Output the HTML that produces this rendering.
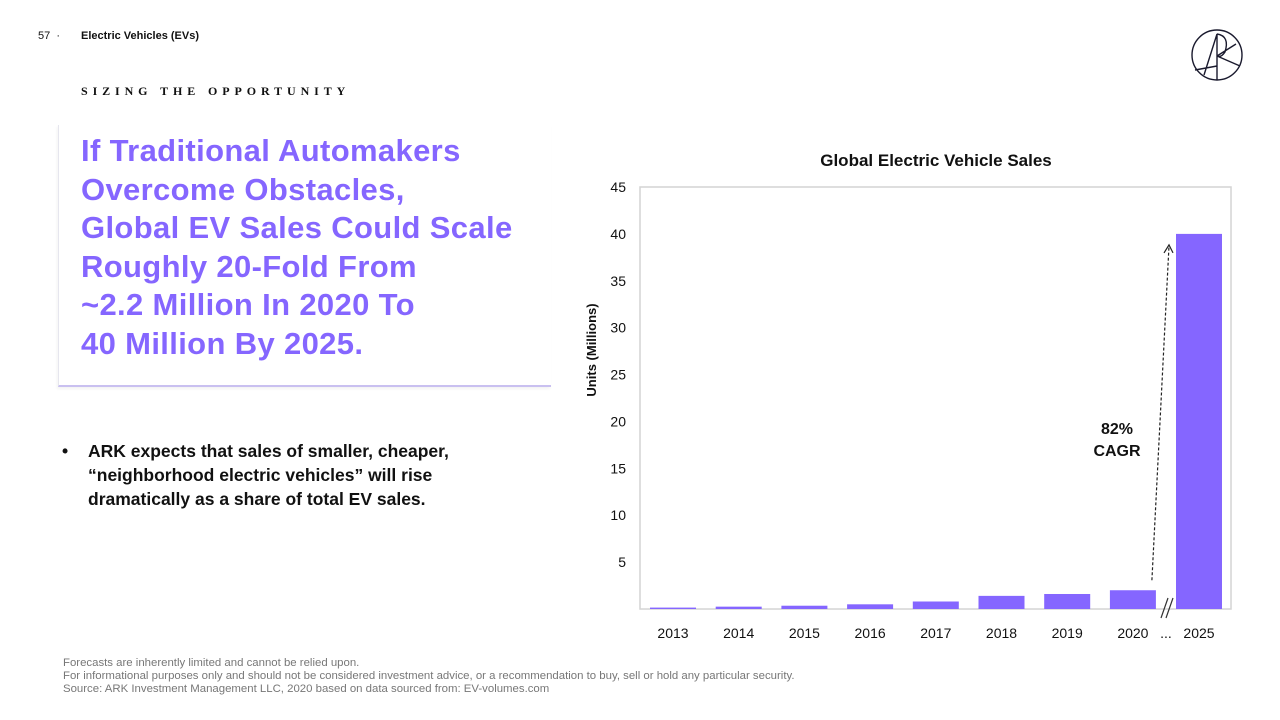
<!DOCTYPE html>
<html><head><meta charset="utf-8"><style>
body{margin:0;width:1280px;height:720px;background:#fff;position:relative;overflow:hidden;font-family:"Liberation Sans","DejaVu Sans",sans-serif;color:#111;}
.abs{position:absolute;}
</style></head><body>
<div class="abs" style="left:38px;top:30px;font-size:11px;">57 &nbsp;·</div>
<div class="abs" style="left:81px;top:30px;font-size:11px;font-weight:bold;">Electric Vehicles (EVs)</div>
<svg class="abs" style="left:1190px;top:28px" width="56" height="56" viewBox="0 0 56 56">
<g fill="none" stroke="#1a1a2e" stroke-width="1.4"><circle cx="27" cy="27" r="25"/>
<path d="M14 47 L27 6 L27 52 M27 6 Q40 8 35 24 Q31 30 27 28 M27 28 L46 16 M27 28 L50 38 M27 38 L5 42"/></g></svg>
<div class="abs" style="left:81px;top:84px;font-family:'Liberation Serif',serif;font-weight:bold;font-size:12px;letter-spacing:4.9px;">SIZING THE OPPORTUNITY</div>
<div class="abs" style="left:58px;top:125px;width:492px;height:260px;border-left:1px solid #e6e6ee;border-bottom:2px solid #c9c0f0;box-shadow:-1px 2px 3px rgba(0,0,0,0.05);"></div>
<div class="abs" style="left:81px;top:132px;font-size:31px;letter-spacing:0.35px;font-weight:bold;line-height:38.6px;color:#8566ff;white-space:nowrap;">If Traditional Automakers<br>Overcome Obstacles,<br>Global EV Sales Could Scale<br>Roughly 20-Fold From<br>~2.2 Million In 2020 To<br>40 Million By 2025.</div>
<div class="abs" style="left:62px;top:439px;font-size:17.5px;font-weight:bold;line-height:24px;">•<span style="position:absolute;left:26px;width:440px;white-space:nowrap">ARK expects that sales of smaller, cheaper,<br>“neighborhood electric vehicles” will rise<br>dramatically as a share of total EV sales.</span></div>
<div class="abs" style="left:63px;top:657px;font-size:11.4px;line-height:13px;color:#777;">Forecasts are inherently limited and cannot be relied upon.<br>For informational purposes only and should not be considered investment advice, or a recommendation to buy, sell or hold any particular security.<br>Source: ARK Investment Management LLC, 2020 based on data sourced from: EV-volumes.com</div>
<svg id="chart" class="abs" style="left:0;top:0" width="1280" height="720"></svg>
<script>
const categories=["2013","2014","2015","2016","2017","2018","2019","2020","2025"];
const sales=[0.15,0.25,0.35,0.5,0.8,1.4,1.6,2.0,40];
const yTicks=[5,10,15,20,25,30,35,40,45];
const svg=document.getElementById('chart');
const NS='http://www.w3.org/2000/svg';
const L=640,R=1231,T=187,B=609,yMax=45;
const y=v=>B-(v/yMax)*(B-T);
const xc=i=>i<8?673+i*65.7:1199;
function mk(t,a,parent){const e=document.createElementNS(NS,t);for(const k in a)e.setAttribute(k,a[k]);(parent||svg).appendChild(e);return e;}
let e;
e=mk('rect',{x:L,y:T,width:R-L,height:B-T,fill:'none',stroke:'#d4d4d4','stroke-width':1.5});

e=mk('text',{x:936,y:166,'text-anchor':'middle','font-size':17,'font-weight':'bold',fill:'#111'});e.textContent='Global Electric Vehicle Sales';

e=mk('text',{transform:'translate(596,350) rotate(-90)','text-anchor':'middle','font-size':13,'font-weight':'bold',fill:'#111'});e.textContent='Units (Millions)';

yTicks.forEach(v=>{const t=mk('text',{x:626,y:y(v)+5,'text-anchor':'end','font-size':14,fill:'#111'});t.textContent=v;
});
categories.forEach((c,i)=>{const w=46;const r=mk('rect',{x:xc(i)-w/2,y:y(sales[i]),width:w,height:B-y(sales[i]),fill:'#8566ff'});

const t=mk('text',{x:xc(i),y:638,'text-anchor':'middle','font-size':14,fill:'#111'});t.textContent=c;
});
e=mk('text',{x:1166,y:638,'text-anchor':'middle','font-size':14,fill:'#111'});e.textContent='...';

e=mk('path',{d:'M1161 618 L1168 598 M1166 618 L1173 598',stroke:'#333','stroke-width':1.2,fill:'none'});

e=mk('path',{d:`M${xc(7)+19} ${y(sales[7])-10} L1169 ${y(sales[8])+12}`,stroke:'#222','stroke-width':1.2,'stroke-dasharray':'3,2',fill:'none'});

e=mk('path',{d:`M1164 ${y(sales[8])+19} L1169 ${y(sales[8])+11} L1173 ${y(sales[8])+19}`,stroke:'#222','stroke-width':1.2,fill:'none'});

e=mk('text',{x:1117,y:434,'text-anchor':'middle','font-size':16,'font-weight':'bold',fill:'#111'});e.textContent='82%';

e=mk('text',{x:1117,y:456,'text-anchor':'middle','font-size':16,'font-weight':'bold',fill:'#111'});e.textContent='CAGR';

</script>
</body></html>
